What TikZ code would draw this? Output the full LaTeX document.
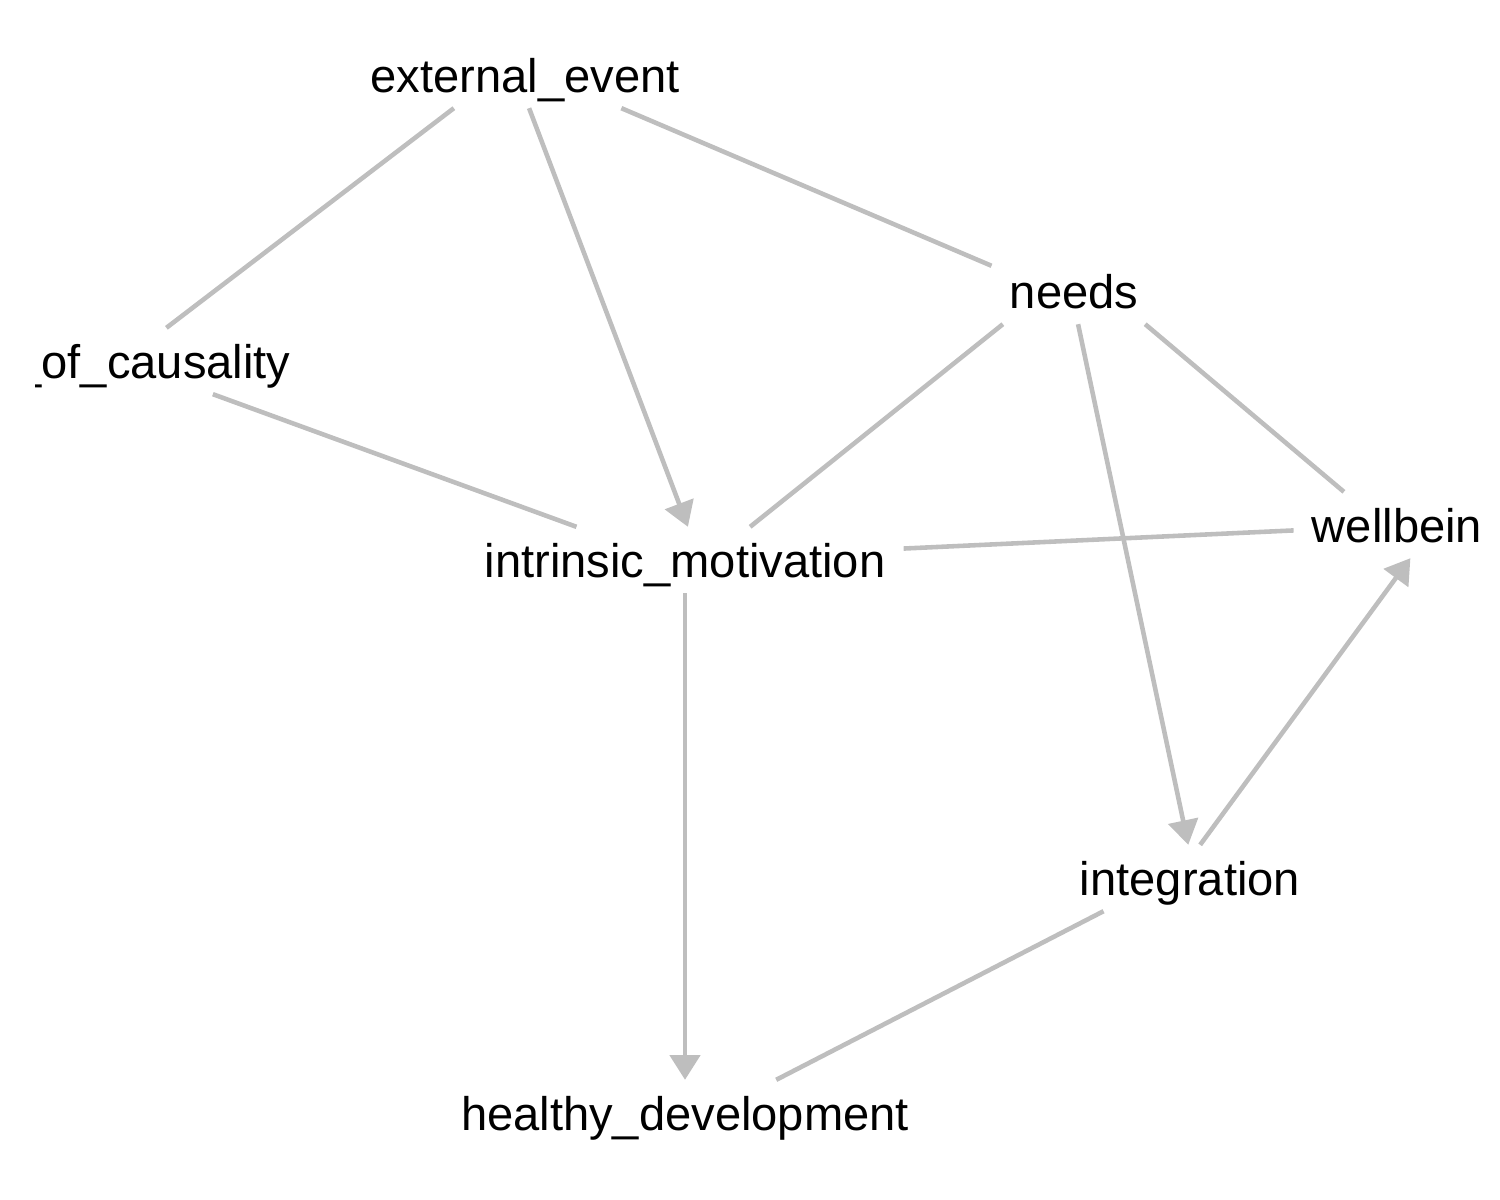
\documentclass[tikz,border=0pt]{standalone}
\usepackage{fontspec}
\setmainfont{Liberation Sans}
\usetikzlibrary{arrows.meta}

\definecolor{edgegray}{RGB}{190,190,190}

\begin{document}
\begin{tikzpicture}[x=0.01cm,y=-0.01cm]

% \draw[help lines, color=gray!30] (0,0) grid[step=100] (1500,1200);

\tikzstyle{vertex}=[inner xsep=5pt, inner ysep=4.4pt, text height=9.67pt, text depth=0pt, font=\fontsize{13.4}{16}\selectfont]
\tikzstyle{link}=[draw=edgegray, line width=1.3pt]
\tikzstyle{arc}=[link, -{Triangle[width=8.5pt,length=7pt]}, edgegray]

\useasboundingbox (0,0) rectangle (1500,1200);

\begin{scope}
\clip (35,0) rectangle (1500,1200);

\node[vertex] (event) at (525,75) {external\_event};
\node[vertex] (causality) at (153,361) {\_of\_causality};
\node[vertex] (needs) at (1074,291) {needs};
\node[vertex] (intrinsic) at (685,560) {intrinsic\_motivation};
\node[vertex] (wellbeing) at (1397,525) {wellbein};
\node[vertex] (integration) at (1190,878) {integration};
\node[vertex] (healthy) at (685,1113) {healthy\_development};

\draw[link] (event.-155) -- (causality.68);
\draw[arc] (event.-83) -- (intrinsic.85);
\draw[link] (event.-19) -- (needs.163);
\draw[link] (causality.-29) -- (intrinsic.163);
\draw[link] (needs.-155) -- (intrinsic.27);
\draw[arc] (needs.-83) -- (integration.93);
\draw[link] (needs.-25) -- (wellbeing.148);
\draw[link] (intrinsic.3) -- (wellbeing.-177);
\draw[arc] (integration.73) -- (wellbeing.-68);
\draw[arc] (intrinsic.south) -- (healthy.north);
\draw[link] (integration.-159) -- (healthy.20);

\end{scope}

\end{tikzpicture}
\end{document}
